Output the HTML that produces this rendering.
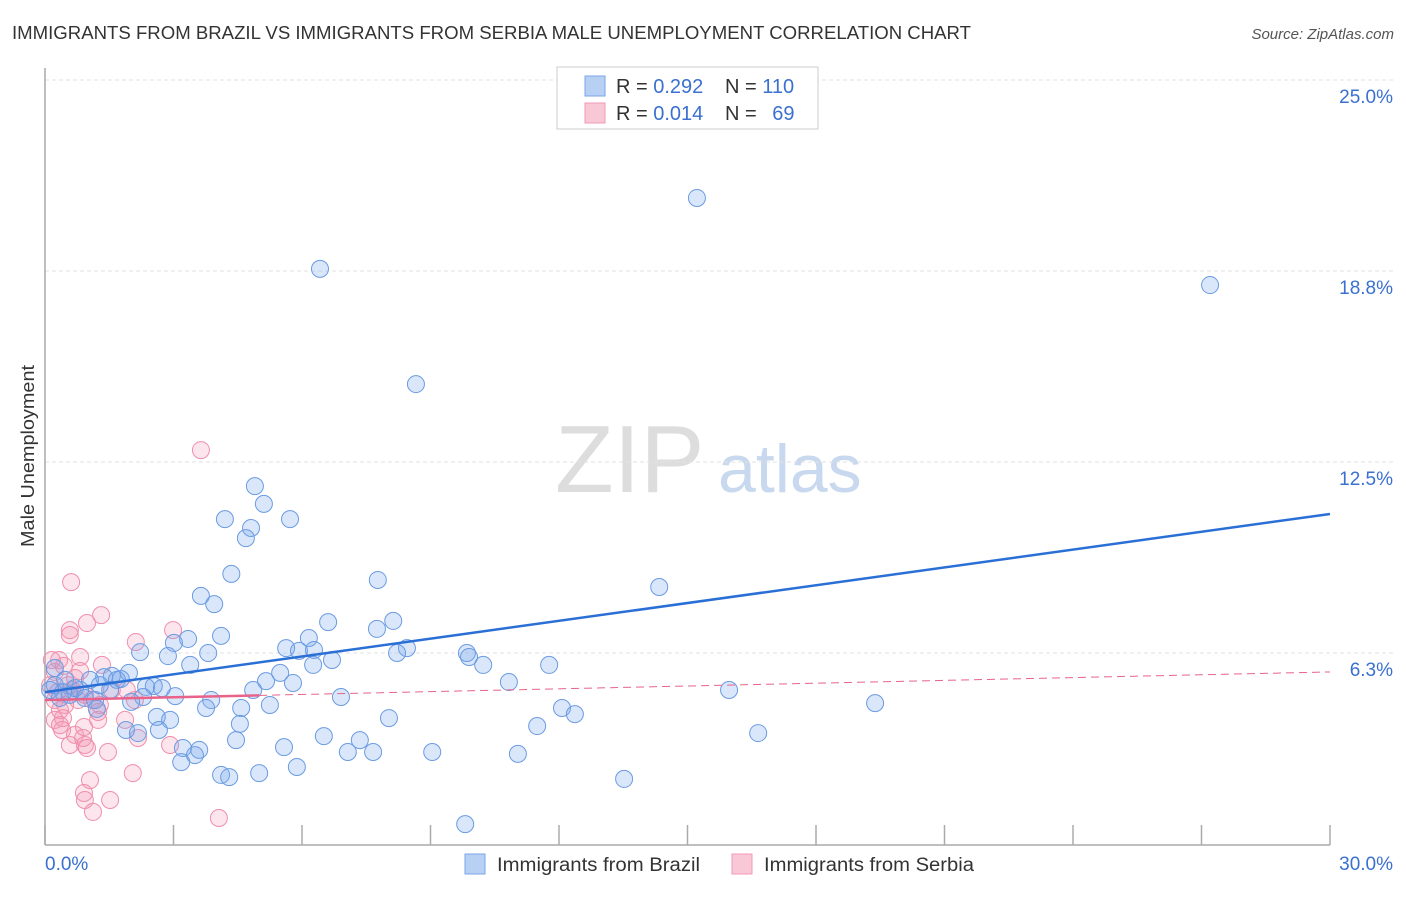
<!DOCTYPE html>
<html><head><meta charset="utf-8"><style>
body{margin:0;background:#fff;font-family:"Liberation Sans",sans-serif;}
svg text{font-family:"Liberation Sans",sans-serif;}
</style></head><body>
<svg id="chart" width="1406" height="892" viewBox="0 0 1406 892">
<text x="12" y="39" font-size="18" fill="#333" textLength="959" lengthAdjust="spacingAndGlyphs">IMMIGRANTS FROM BRAZIL VS IMMIGRANTS FROM SERBIA MALE UNEMPLOYMENT CORRELATION CHART</text>
<text x="1394" y="39" font-size="15" fill="#555" font-style="italic" text-anchor="end">Source: ZipAtlas.com</text>
<text x="555" y="492" font-size="96" fill="#ddd" font-family="Liberation Serif">ZIP</text>
<text x="718" y="492" font-size="68" fill="#c8d8ee">atlas</text>
<g id="grid"></g>
<g id="axes"></g>
<g id="pts"></g>
<g id="trends"></g>
<text transform="translate(34,456) rotate(-90)" font-size="18" fill="#333" text-anchor="middle" textLength="182" lengthAdjust="spacingAndGlyphs">Male Unemployment</text>
<text x="45" y="870" font-size="19" fill="#3a70d0">0.0%</text>
<text x="1393" y="870" font-size="19" fill="#3a70d0" text-anchor="end">30.0%</text>
<g>
<rect x="557" y="67" width="261" height="62" fill="#fff" stroke="#ccc"/>
<rect x="585" y="76" width="20" height="20" fill="#b8d0f4" stroke="#7aa6e8"/>
<rect x="585" y="103" width="20" height="20" fill="#f8c8d6" stroke="#f09ab4"/>
<text x="616" y="93" font-size="20" fill="#333">R = <tspan fill="#3a70d0">0.292</tspan></text>
<text x="725" y="93" font-size="20" fill="#333">N = <tspan fill="#3a70d0">110</tspan></text>
<text x="616" y="120" font-size="20" fill="#333">R = <tspan fill="#3a70d0">0.014</tspan></text>
<text x="725" y="120" font-size="20" fill="#333">N = <tspan fill="#3a70d0" dx="10">69</tspan></text>
</g>
<g>
<rect x="465" y="854" width="20" height="20" fill="#b8d0f4" stroke="#7aa6e8"/>
<text x="497" y="871" font-size="19" fill="#333" textLength="203" lengthAdjust="spacingAndGlyphs">Immigrants from Brazil</text>
<rect x="732" y="854" width="20" height="20" fill="#f8c8d6" stroke="#f09ab4"/>
<text x="764" y="871" font-size="19" fill="#333" textLength="210" lengthAdjust="spacingAndGlyphs">Immigrants from Serbia</text>
</g>
</svg>
<script>
const yTicks=[6.25,12.5,18.75,25];
const yTickLabels=["6.3%","12.5%","18.8%","25.0%"];
const xTicks=[0,3,6,9,12,15,18,21,24,27,30];
const brazilX=[15.22,27.2,6.42,8.66,4.9,5.11,4.2,5.72,4.81,4.69,4.35,7.77,14.34,3.64,3.95,6.61,8.13,7.75,4.11,3.34,3.01,6.16,5.63,5.93,6.28,8.45,8.22,2.22,2.87,3.81,9.85,9.9,6.7,6.26,10.23,11.77,3.39,5.49,5.16,5.79,4.86,10.83,15.97,1.96,1.56,1.38,1.68,1.77,2.54,2.73,2.36,3.04,2.29,1.05,0.82,1.52,6.91,3.88,2.01,19.38,12.07,3.76,4.58,5.25,1.21,12.37,8.03,2.61,2.92,4.55,11.49,1.89,2.17,2.66,6.51,7.35,4.46,16.65,3.22,3.6,5.58,7.07,7.66,9.04,3.5,11.04,3.18,5.88,4.11,4.3,5.0,13.52,9.81,0.23,0.23,0.35,0.47,0.58,0.7,0.93,1.17,1.28,0.42,0.12];
const brazilY=[21.14,18.29,18.82,15.05,11.71,11.13,10.63,10.63,10.34,10.01,8.84,8.64,8.41,8.12,7.85,7.26,7.3,7.04,6.81,6.71,6.58,6.74,6.41,6.32,6.35,6.41,6.25,6.28,6.15,6.25,6.25,6.12,6.02,5.86,5.86,5.86,5.86,5.6,5.33,5.27,5.04,5.3,5.04,5.6,5.5,5.46,5.37,5.4,5.17,5.1,5.14,4.84,4.81,5.37,5.04,5.04,4.81,4.71,4.65,4.61,4.45,4.45,4.45,4.55,4.42,4.25,4.12,4.16,4.06,3.93,3.86,3.73,3.63,3.73,3.53,3.4,3.4,3.63,3.14,3.08,3.17,3.01,3.01,3.01,2.91,2.95,2.68,2.52,2.26,2.19,2.32,2.13,0.65,5.76,5.2,4.78,5.37,4.88,5.1,4.78,4.71,5.2,4.97,5.04];
const serbiaX=[3.64,0.61,1.31,0.58,0.98,0.58,2.12,2.99,0.33,0.82,1.33,0.44,0.23,0.82,1.91,0.23,0.35,0.47,0.63,0.77,0.93,1.1,1.28,0.12,0.3,0.54,0.23,0.42,0.4,0.58,0.7,0.91,0.93,0.89,1.24,1.47,1.87,2.17,2.92,2.1,0.98,1.05,0.91,0.93,1.52,1.12,2.05,4.06,1.24,0.35,0.16,1.56,0.7];
const serbiaY=[12.89,8.57,7.49,7.0,7.23,6.84,6.61,7.0,6.02,6.12,5.86,5.83,5.63,5.66,5.04,4.71,4.38,4.55,5.04,4.71,4.88,4.71,4.55,5.2,4.97,5.2,4.06,4.12,3.73,3.24,3.57,3.83,3.24,3.47,4.06,3.01,4.06,3.47,3.24,4.71,3.14,2.09,1.67,1.44,1.44,1.05,2.32,0.85,4.32,3.89,6.02,5.04,5.43];
const brazilTrend=[4.97,10.8];
const serbiaTrend=[4.71,5.63];
const X=v=>45+v*(1285/30);
const Y=v=>844-v*30.56;
const NS="http://www.w3.org/2000/svg";
function mk(parent,tag,attrs){const e=document.createElementNS(NS,tag);for(const k in attrs)e.setAttribute(k,attrs[k]);document.getElementById(parent).appendChild(e);return e;}
yTicks.forEach((t,i)=>{
  const g=mk('grid','line',{x1:45,x2:1393,y1:Y(t),y2:Y(t),stroke:'#e2e2e2','stroke-dasharray':'4,3'});
  
  
  const l=mk('grid','text',{x:1393,y:Y(t)+23,'font-size':19,fill:'#3a70d0','text-anchor':'end'});
  l.textContent=yTickLabels[i];
  
  
});
const ya=mk('axes','line',{x1:45,x2:45,y1:68,y2:845,stroke:'#aaa','stroke-width':1.5});


const xa=mk('axes','line',{x1:45,x2:1330,y1:845,y2:845,stroke:'#aaa','stroke-width':1.5});


xTicks.forEach(t=>{
  const k=mk('axes','line',{x1:X(t),x2:X(t),y1:825,y2:845,stroke:'#aaa','stroke-width':1.5});
  
  
});
serbiaX.forEach((v,i)=>{
  const c=mk('pts','circle',{cx:X(v),cy:Y(serbiaY[i]),r:8.5,fill:'rgba(244,150,178,0.25)',stroke:'#f08fad','stroke-width':1});
  
  
});
brazilX.forEach((v,i)=>{
  const c=mk('pts','circle',{cx:X(v),cy:Y(brazilY[i]),r:8.5,fill:'rgba(120,165,235,0.27)',stroke:'#6a9be2','stroke-width':1});
  
  
});
const bt=mk('trends','line',{x1:X(0),y1:Y(brazilTrend[0]),x2:X(30),y2:Y(brazilTrend[1]),stroke:'#2a6fd6','stroke-width':2.5});


const sEnd=5;
const sm=serbiaTrend[0]+(serbiaTrend[1]-serbiaTrend[0])*sEnd/30;
const st=mk('trends','line',{x1:X(0),y1:Y(serbiaTrend[0]),x2:X(sEnd),y2:Y(sm),stroke:'#e8628a','stroke-width':2.5});


const sd=mk('trends','line',{x1:X(sEnd),y1:Y(sm),x2:X(30),y2:Y(serbiaTrend[1]),stroke:'#e8628a','stroke-width':1,'stroke-dasharray':'8,5'});


</script>
</body></html>
